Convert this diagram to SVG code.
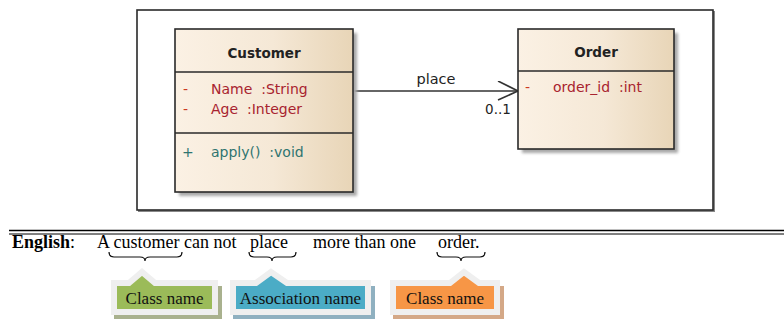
<svg xmlns="http://www.w3.org/2000/svg" width="784" height="322" viewBox="0 0 784 322">
<defs>
  <linearGradient id="cls" x1="0" y1="0" x2="1" y2="0">
    <stop offset="0" stop-color="#fbf1e4"/>
    <stop offset="0.55" stop-color="#f5e8d6"/>
    <stop offset="1" stop-color="#e8d5b7"/>
  </linearGradient>
  <filter id="blur" x="-10%" y="-10%" width="130%" height="130%">
    <feGaussianBlur stdDeviation="1.6"/>
  </filter>
  <marker id="open" markerWidth="24" markerHeight="24" refX="21" refY="10" orient="auto" markerUnits="userSpaceOnUse">
    <path d="M1,0 L21,10 L1,19" fill="none" stroke="#333" stroke-width="1.6"/>
  </marker>
  <style>
    .box{fill:url(#cls);stroke:#2a2a2a;stroke-width:1.6}
    .shadow{fill:#a8a8a8;filter:url(#blur)}
    .div{stroke:#2a2a2a;stroke-width:1.4}
    .title{font-family:"DejaVu Sans",sans-serif;font-weight:bold;font-size:13.5px;fill:#222;text-anchor:middle}
    .attr{font-family:"DejaVu Sans",sans-serif;font-size:14px;fill:#a8232f;white-space:pre}
    .vis{font-family:"DejaVu Sans",sans-serif;font-size:14px;fill:#cc3a22}
    .op{font-family:"DejaVu Sans",sans-serif;font-size:14px;fill:#2f7470;white-space:pre}
    .lbl{font-family:"DejaVu Sans",sans-serif;font-size:14.5px;fill:#222}
    .serif{font-family:"Liberation Serif","Times New Roman",serif;font-size:18px;fill:#000}
    .co{font-family:"Liberation Serif","Times New Roman",serif;font-size:17px;fill:#111;text-anchor:middle}
    .brace{fill:none;stroke:#111;stroke-width:1.2}
    .frame{stroke:#efefef;stroke-width:6;stroke-linejoin:miter}
  </style>
</defs>
<rect width="784" height="322" fill="#fff"/>

<!-- outer frame -->
<g id="frame">
  <polyline points="714,11 714,211 138,211" fill="none" stroke="#888" stroke-width="2"/>
  <rect x="137" y="10" width="576" height="200" fill="#fff" stroke="#2a2a2a" stroke-width="1.6"/>
</g>

<!-- connectors -->
<g id="connectors">
  <line x1="353" y1="91" x2="518" y2="91" stroke="#333" stroke-width="1.6" marker-end="url(#open)"/>
  <text class="lbl" x="436" y="84" text-anchor="middle">place</text>
  <text class="lbl" x="498" y="114" text-anchor="middle" style="font-size:13.5px">0..1</text>
</g>

<!-- Customer class -->
<g id="customer">
  <rect class="shadow" x="179" y="33" width="178" height="163"/>
  <rect class="box" x="175" y="29" width="178" height="163"/>
  <line class="div" x1="175" y1="72" x2="353" y2="72"/>
  <line class="div" x1="175" y1="133" x2="353" y2="133"/>
  <text class="title" x="264" y="58">Customer</text>
  <text class="vis" x="183" y="94">-</text>
  <text class="attr" x="211" y="94" xml:space="preserve">Name  :String</text>
  <text class="vis" x="183" y="114">-</text>
  <text class="attr" x="211" y="114" xml:space="preserve">Age  :Integer</text>
  <text class="op" x="182" y="157">+</text>
  <text class="op" x="211" y="157" xml:space="preserve">apply()  :void</text>
</g>

<!-- Order class -->
<g id="order">
  <rect class="shadow" x="522" y="33" width="156" height="120"/>
  <rect class="box" x="518" y="29" width="156" height="120"/>
  <line class="div" x1="518" y1="71" x2="674" y2="71"/>
  <text class="title" x="596" y="57">Order</text>
  <text class="vis" x="525" y="92">-</text>
  <text class="attr" x="553" y="92" xml:space="preserve">order_id  :int</text>
</g>

<!-- separator -->
<g id="separator">
  <line x1="9" y1="230.5" x2="784" y2="230.5" stroke="#000" stroke-width="1.6"/>
  <line x1="9" y1="234" x2="784" y2="234" stroke="#000" stroke-width="1"/>
</g>

<!-- sentence -->
<g id="sentence">
  <text class="serif" x="12" y="248"><tspan font-weight="bold">English</tspan>:</text>
  <text class="serif" x="97" y="248">A customer can not</text>
  <text class="serif" x="250" y="248">place</text>
  <text class="serif" x="313" y="248">more than one</text>
  <text class="serif" x="438" y="248">order.</text>
  <path class="brace" d="M109,252 Q109,257 114,257 L140,257 Q145,257 145,261 Q145,257 150,257 L177,257 Q182,257 182,252"/>
  <path class="brace" d="M249,252 Q249,257 254,257 L267,257 Q272,257 272,261 Q272,257 277,257 L291,257 Q296,257 296,252"/>
  <path class="brace" d="M437,252 Q437,257 442,257 L456,257 Q461,257 461,261 Q461,257 466,257 L480,257 Q485,257 485,252"/>
</g>

<!-- callouts -->
<g id="callout-class1">
  <rect x="114" y="286" width="108" height="33" fill="#a9b18e"/>
  <path class="frame" d="M114,283 L129,283 L142,272 L155,283 L215,283 L215,312 L114,312 Z" fill="#9bbb59"/>
  <text class="co" x="164.5" y="304">Class name</text>
</g>
<g id="callout-assoc">
  <rect x="233" y="286" width="142" height="33" fill="#8fb0c0"/>
  <path class="frame" d="M233,283 L256,283 L271,272 L287,283 L368,283 L368,312 L233,312 Z" fill="#4bacc6"/>
  <text class="co" x="300.5" y="304">Association name</text>
</g>
<g id="callout-class2">
  <rect x="393" y="286" width="111" height="33" fill="#d4a887"/>
  <path class="frame" d="M393,283 L450,283 L464,272 L479,283 L497,283 L497,312 L393,312 Z" fill="#f79646"/>
  <text class="co" x="445" y="304">Class name</text>
</g>
</svg>
